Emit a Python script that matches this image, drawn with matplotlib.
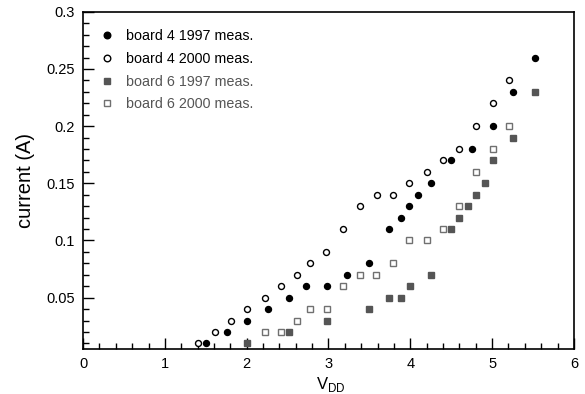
import numpy as np
import matplotlib
matplotlib.use("Agg")
import matplotlib.pyplot as plt
from matplotlib.ticker import MultipleLocator

# board 4, 1997 measurement (filled circles)
b4_97_v = [1.50, 1.76, 2.01, 2.26, 2.52, 2.73, 2.98, 3.23, 3.49, 3.74, 3.89, 3.99,
           4.10, 4.25, 4.50, 4.76, 5.01, 5.26, 5.52]
b4_97_i = [0.01, 0.02, 0.03, 0.04, 0.05, 0.06, 0.06, 0.07, 0.08, 0.11, 0.12, 0.13,
           0.14, 0.15, 0.17, 0.18, 0.20, 0.23, 0.26]

# board 4, 2000 measurement (open circles)
b4_00_v = [1.40, 1.61, 1.81, 2.01, 2.22, 2.42, 2.62, 2.77, 2.97, 3.18, 3.38, 3.59,
           3.79, 3.99, 4.20, 4.40, 4.60, 4.80, 5.01, 5.21]
b4_00_i = [0.01, 0.02, 0.03, 0.04, 0.05, 0.06, 0.07, 0.08, 0.09, 0.11, 0.13, 0.14,
           0.14, 0.15, 0.16, 0.17, 0.18, 0.20, 0.22, 0.24]

# board 6, 1997 measurement (filled squares)
b6_97_v = [2.01, 2.52, 2.98, 3.49, 3.74, 3.89, 4.00, 4.25, 4.50, 4.60, 4.70, 4.80,
           4.91, 5.01, 5.26, 5.52]
b6_97_i = [0.01, 0.02, 0.03, 0.04, 0.05, 0.05, 0.06, 0.07, 0.11, 0.12, 0.13, 0.14,
           0.15, 0.17, 0.19, 0.23]

# board 6, 2000 measurement (open squares)
b6_00_v = [2.22, 2.42, 2.62, 2.77, 2.98, 3.18, 3.38, 3.58, 3.79, 3.99, 4.20, 4.40,
           4.60, 4.80, 5.01, 5.21]
b6_00_i = [0.02, 0.02, 0.03, 0.04, 0.04, 0.06, 0.07, 0.07, 0.08, 0.10, 0.10, 0.11,
           0.13, 0.16, 0.18, 0.20]

plt.rcParams['font.family'] = ['Liberation Sans', 'DejaVu Sans']
plt.rcParams['mathtext.fontset'] = 'custom'
plt.rcParams['mathtext.rm'] = 'Liberation Sans'

fig = plt.figure(figsize=(5.85, 3.94), dpi=100)
ax = fig.add_axes([0.142, 0.114, 0.839, 0.856])

ms = 4.3
ax.plot(b4_97_v, b4_97_i, 'o', ms=ms, color='black', mec='black', label='board 4 1997 meas.')
ax.plot(b4_00_v, b4_00_i, 'o', ms=ms, mfc='white', mec='black', mew=1.0, label='board 4 2000 meas.')
ax.plot(b6_97_v, b6_97_i, 's', ms=ms, color='#555555', mec='#555555', label='board 6 1997 meas.')
ax.plot(b6_00_v, b6_00_i, 's', ms=ms, mfc='white', mec='#707070', mew=1.0, label='board 6 2000 meas.')

ax.set_xlim(0, 6)
ax.set_ylim(0.005, 0.3)
ax.xaxis.set_major_locator(MultipleLocator(1))
ax.xaxis.set_minor_locator(MultipleLocator(0.2))
ax.yaxis.set_minor_locator(MultipleLocator(0.01))
ax.set_yticks([0.05, 0.1, 0.15, 0.2, 0.25, 0.3])
ax.set_yticklabels(['0.05', '0.1', '0.15', '0.2', '0.25', '0.3'])

ax.tick_params(which='both', direction='in', top=False, right=False, labelsize=10.5,
               width=1.0, color='black')
ax.tick_params(which='major', length=8, pad=6)
ax.tick_params(which='minor', length=4)
for s in ax.spines.values():
    s.set_linewidth(1.2)

ax.set_ylabel('current (A)', fontsize=14.5, labelpad=8)
ax.set_xlabel(r'V$_{\mathregular{DD}}$', fontsize=12, va='baseline')
ax.xaxis.set_label_coords(0.505, -0.119)

leg = ax.legend(loc='upper left', frameon=False, fontsize=10.3, handletextpad=0.7,
                borderaxespad=0.0, labelspacing=0.6, markerscale=1.1,
                handlelength=1.2, bbox_to_anchor=(0.02, 0.965))
for t, c in zip(leg.get_texts(), ['black', 'black', '#555555', '#555555']):
    t.set_color(c)

fig.savefig('out.png', dpi=100)
